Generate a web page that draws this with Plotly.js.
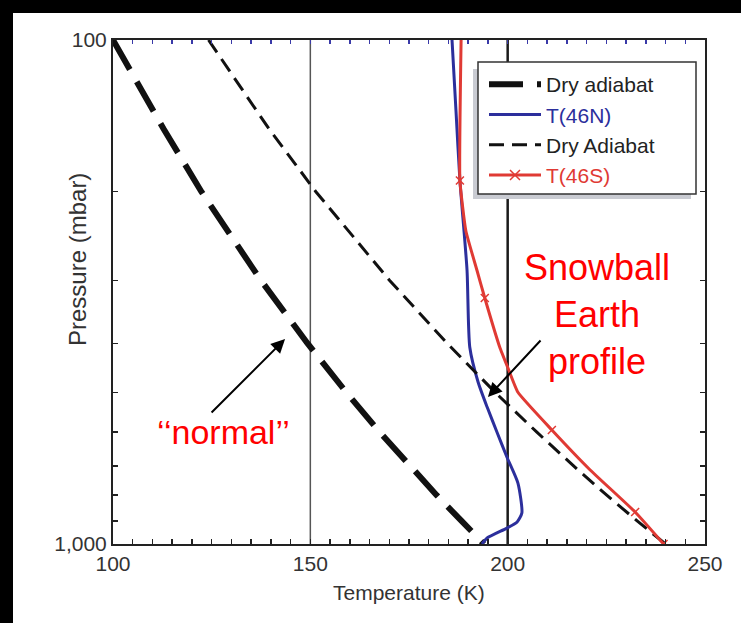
<!DOCTYPE html>
<html><head><meta charset="utf-8">
<script src="https://cdn.plot.ly/plotly-3.0.1.min.js"></script>
<style>
html,body{margin:0;padding:0;background:#000;width:741px;height:623px;overflow:hidden}
#chart{position:absolute;left:13px;top:13px;width:728px;height:610px;background:#fff}
</style></head><body><div id="chart"></div>
<script>
// ---- data ----
const adiabatP = [100,150,200,300,400,500,600,700,800,900,1000];
const dryAdiabatColdT = [100.0,112.8,122.4,137.5,149.3,159.1,167.6,175.2,182.0,188.3,194.0];
const dryAdiabatWarmT = [124.2,139.5,151.4,170.1,184.7,196.8,207.4,216.7,225.1,232.8,240.0];

const north46P = [100,138,190,286,407,477,535,600,672,757,868,904,930,973,1000];
const north46T = [185.9,186.9,187.9,189.7,190.4,192.5,194.8,197.3,199.8,202.6,203.6,202.4,199.8,194.8,193.5];

const south46P = [100,190,239,286,325,407,448,500,594,713,864,1000];
const south46T = [188.2,187.9,189.4,192.2,194.2,198.0,200.1,202.6,211.2,220.9,232.3,239.5];
const south46Marked = [0,1,0,0,1,0,0,0,1,0,1,1];

const refLinesT = [150, 200];
const yTickVals = [100,200,300,400,500,600,700,800,900,1000];
const yTickText = ['100','','','','','','','','','1,000'];
const xTickLabels = [100,150,200,250];

// ---- layout helpers ----
const W = 728, H = 610, ML = 100, MR = 36, MT = 27, MB = 79;
const PW = W - ML - MR, PH = H - MT - MB;
const px2x = p => (p - 13 - ML) / PW;
const py2y = p => 1 - (p - 13 - MT) / PH;

const xTickVals = [];
for (let v = 100; v <= 250; v += 5) xTickVals.push(v);
const xTickText = xTickVals.map(v => xTickLabels.includes(v) ? String(v) : '');

const BLUE = '#2c2f9c', RED = '#e03a34', FONT = '"Liberation Sans", Arial, Helvetica, sans-serif';

const traces = [
  {x: dryAdiabatColdT, y: adiabatP, mode: 'lines', name: 'Dry adiabat',
   line: {color: '#111', width: 6, dash: '34px,14px'}},
  {x: north46T, y: north46P, mode: 'lines', name: '<span style="color:' + BLUE + '">T(46N)</span>',
   line: {color: BLUE, width: 3, shape: 'spline', smoothing: 0.6}},
  {x: dryAdiabatWarmT, y: adiabatP, mode: 'lines', name: 'Dry Adiabat',
   line: {color: '#111', width: 3, dash: '15px,8px'}},
  {x: south46T, y: south46P, mode: 'lines', showlegend: false, hoverinfo: 'skip',
   line: {color: RED, width: 3, shape: 'spline', smoothing: 0.4}},
  {x: south46T.filter((v, i) => south46Marked[i]), y: south46P.filter((v, i) => south46Marked[i]),
   mode: 'markers', showlegend: false,
   marker: {symbol: 'x-thin', size: 8, line: {color: RED, width: 1.5}}},
  {x: [null], y: [null], mode: 'lines+markers', name: '<span style="color:' + RED + '">T(46S)</span>',
   line: {color: RED, width: 3}, marker: {symbol: 'x-thin', size: 10, line: {color: RED, width: 1.5}}},
  {x: [null], y: [null], xaxis: 'x2', showlegend: false, hoverinfo: 'skip'}
];

const shapes = refLinesT.map((t, i) => ({
  type: 'line', xref: 'x', yref: 'paper', x0: t, x1: t, y0: 0, y1: 1, layer: 'below',
  line: {color: i === 0 ? '#555' : '#1a1a1a', width: i === 0 ? 1.5 : 2.5}
}));
// legend shadow and frame
shapes.push({type: 'rect', xref: 'paper', yref: 'paper', layer: 'above',
  x0: px2x(473), x1: px2x(691), y0: py2y(199), y1: py2y(69),
  fillcolor: '#c9cbd2', line: {width: 0}});
shapes.push({type: 'rect', xref: 'paper', yref: 'paper', layer: 'above',
  x0: px2x(478), x1: px2x(696), y0: py2y(194), y1: py2y(62),
  fillcolor: '#ffffff', line: {color: '#333', width: 1.5}});

const L = Math.log10;
const annotations = [
  {xref: 'x', yref: 'y', x: 222.6, y: L(350), text: 'Snowball<br>Earth<br>profile', showarrow: false,
   xanchor: 'center', yanchor: 'middle', font: {family: FONT, size: 36, color: '#ff0000'}},
  {xref: 'x', yref: 'y', x: 128, y: L(600), text: '\u2018\u2018normal\u2019\u2019', showarrow: false,
   xanchor: 'center', yanchor: 'middle', font: {family: FONT, size: 34, color: '#ff0000'}},
  {xref: 'x', yref: 'y', x: 143.6, y: L(392), text: '', showarrow: true, ax: -75, ay: 75,
   arrowcolor: '#000', arrowwidth: 2, arrowhead: 2, arrowsize: 1.4},
  {xref: 'x', yref: 'y', x: 195.0, y: L(511), text: '', showarrow: true, ax: 54, ay: -58,
   arrowcolor: '#000', arrowwidth: 2, arrowhead: 2, arrowsize: 1.4},
  {xref: 'paper', yref: 'paper', x: px2x(77), y: py2y(260), text: 'Pressure (mbar)', textangle: -90,
   showarrow: false, xanchor: 'center', yanchor: 'middle', font: {family: FONT, size: 24, color: '#333'}},
  {xref: 'paper', yref: 'paper', x: 0.5, y: py2y(592), text: 'Temperature (K)',
   showarrow: false, xanchor: 'center', yanchor: 'middle', font: {family: FONT, size: 21, color: '#333'}}
];

const layout = {
  width: W, height: H,
  margin: {l: ML, r: MR, t: MT, b: MB, pad: 0},
  paper_bgcolor: '#fff', plot_bgcolor: '#fff',
  font: {family: FONT, size: 21, color: '#333'},
  showlegend: true,
  legend: {x: px2x(484), y: py2y(64), xanchor: 'left', yanchor: 'top',
    bgcolor: 'rgba(0,0,0,0)', borderwidth: 0,
    font: {family: FONT, size: 21, color: '#222'}, itemwidth: 52, tracegroupgap: 0},
  xaxis: {range: [100, 250], tickmode: 'array', tickvals: xTickVals, ticktext: xTickText,
    ticks: 'inside', ticklen: 5, tickwidth: 1.5, tickcolor: '#222',
    showline: true, linecolor: '#222', linewidth: 2, mirror: true,
    showgrid: false, zeroline: false, tickfont: {size: 21, color: '#333'}, fixedrange: true},
  xaxis2: {range: [100, 250], overlaying: 'x', anchor: 'y', side: 'top', tickmode: 'array',
    tickvals: xTickVals, ticks: 'inside', ticklen: 4, tickwidth: 1.5, tickcolor: '#3a3aa8',
    showticklabels: false, showline: false, showgrid: false, zeroline: false},
  yaxis: {type: 'log', range: [3, 2], tickmode: 'array', tickvals: yTickVals, ticktext: yTickText,
    ticks: 'inside', ticklen: 5, tickwidth: 1.5, tickcolor: '#222',
    showline: true, linecolor: '#222', linewidth: 2, mirror: 'ticks',
    showgrid: false, zeroline: false, tickfont: {size: 21, color: '#333'}, fixedrange: true},
  shapes: shapes,
  annotations: annotations
};

Plotly.newPlot('chart', traces, layout, {displayModeBar: false, staticPlot: true});
</script></body></html>
